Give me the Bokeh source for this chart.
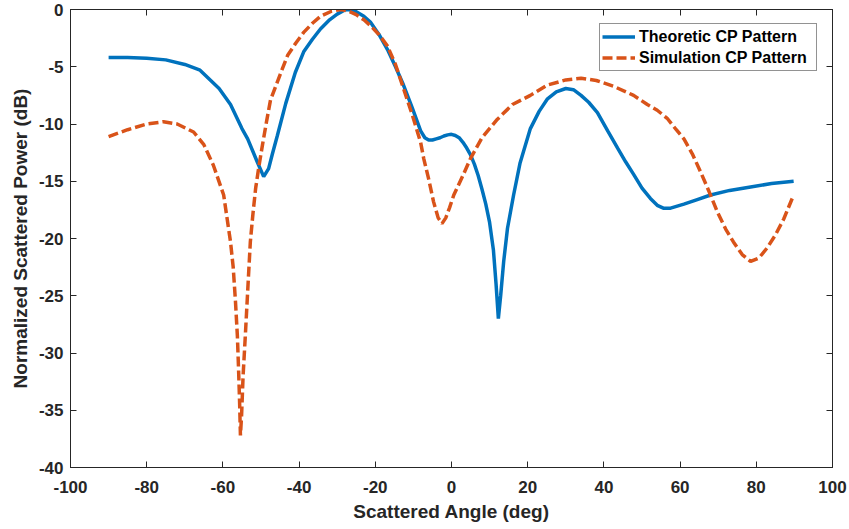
from bokeh.plotting import figure
from bokeh.models import LinearAxis, FixedTicker, Legend, LegendItem, Range1d
from bokeh.embed import file_html
from bokeh.resources import INLINE

# Theoretic CP pattern
theo_x = [-90, -85, -80, -75, -70, -66, -61, -58, -55, -53.5, -51, -49.3, -48, -47, -45.7,
          -43.5, -41, -38.8, -36.5, -34.4, -32, -30, -28, -27, -25, -23, -21.3, -19, -16.8,
          -14.7, -12.6, -10.3, -8.1, -7, -6, -5, -4, -3, -2, -1, 0, 1, 2, 3, 4, 5, 6, 7, 8, 9,
          10, 11, 11.7, 12.3, 12.9, 13.7, 14.7, 16.3, 18, 20.7, 23, 25.2, 27.5, 30, 32, 34, 36,
          38.3, 41, 43.6, 45.7, 47.8, 50, 52.2, 54, 55.6, 57.5, 61, 64.5, 68, 73, 78.5, 84, 89.8]
theo_y = [-4.2, -4.2, -4.25, -4.4, -4.8, -5.3, -6.9, -8.3, -10.4, -11.3, -13.3, -14.6, -13.9, -12.6, -11.0,
          -8.2, -5.5, -3.7, -2.6, -1.7, -0.9, -0.4, -0.05, 0.0, -0.2, -0.6, -1.1, -2.2, -3.5,
          -5.0, -6.6, -8.6, -10.6, -11.2, -11.4, -11.4, -11.3, -11.2, -11.05, -10.95, -10.9, -11.0, -11.2, -11.6, -12.1, -12.7, -13.5, -14.5, -15.7, -17.0,
          -18.6, -21.0, -24.0, -27.0, -25.0, -22.0, -19.1, -16.2, -13.4, -10.4, -8.9, -7.8, -7.2, -6.9, -7.0, -7.5, -8.1,
          -9.0, -10.6, -12.1, -13.3, -14.4, -15.6, -16.5, -17.1, -17.35, -17.35, -17.0, -16.6, -16.2, -15.8, -15.5, -15.2, -15.0]

# Simulation CP pattern
sim_x = [-90, -85, -80, -75.6, -72, -67.7, -65, -62.5, -59.8, -58, -57.3, -56.7, -56.2, -55.9, -55.6, -55.4,
         -55.1, -54.7, -54.1, -53.4, -52.8, -52.1, -51.4, -50.5, -49.6, -48.5, -47.5, -45, -43, -40.8, -38.8,
         -36.5, -34.4, -31.5, -29, -27, -25, -23, -21.3, -19, -16.8, -14.7, -12.6, -10.3, -8.1, -7.3, -6,
         -4.7, -3.5, -2.5, -1.5, -0.5, 0.6, 3, 5, 8, 12, 16, 20.7, 25.2, 30, 34, 38, 42.5, 47.8, 51.4, 54,
         56.6, 59, 61, 63.2, 65.4, 67.6, 69.8, 72, 74, 76.3, 78.5, 80.7, 82.9, 85, 87.2, 89.8]
sim_y = [-11.1, -10.5, -10.0, -9.8, -10.0, -10.7, -11.8, -13.6, -16.2, -20.3, -22.5, -25.5, -28.5, -31.3, -34.5, -37.2,
         -35.5, -32.0, -28.4, -24.0, -20.3, -17.8, -15.6, -13.6, -11.8, -9.7, -7.9, -5.7, -4.0, -2.9, -2.0,
         -1.2, -0.6, -0.15, 0.0, -0.15, -0.45, -0.9, -1.4, -2.2, -3.2, -4.8, -6.9, -9.2, -11.6, -13.0, -14.8,
         -16.8, -18.2, -18.7, -18.2, -17.3, -16.2, -14.5, -13.0, -11.2, -9.6, -8.3, -7.5, -6.6, -6.15, -6.0, -6.2, -6.7, -7.5, -8.3, -8.8,
         -9.5, -10.5, -11.3, -12.6, -14.2, -15.9, -17.7, -19.2, -20.3, -21.4, -22.0, -21.7, -20.8, -19.7, -18.3, -16.2]

x_ticks = [-100, -80, -60, -40, -20, 0, 20, 40, 60, 80, 100]
y_ticks = [-40, -35, -30, -25, -20, -15, -10, -5, 0]
series_names = ["Theoretic CP Pattern", "Simulation CP Pattern"]

FONT = "Liberation Sans"
AX = "#262626"

p = figure(width=849, height=529, x_range=Range1d(-100, 100), y_range=Range1d(-40, 0),
           output_backend="svg", toolbar_location=None,
           min_border_left=70, min_border_right=17, min_border_top=9, min_border_bottom=62)
p.background_fill_color = "white"
p.border_fill_color = "white"
p.outline_line_color = AX
p.outline_line_width = 1
p.xgrid.visible = False
p.ygrid.visible = False

for ax, ticks in ((p.xaxis[0], x_ticks), (p.yaxis[0], y_ticks)):
    ax.ticker = FixedTicker(ticks=ticks)
    ax.major_label_overrides = {t: str(t) for t in ticks}
    ax.major_tick_in = 6
    ax.major_tick_out = 0
    ax.minor_tick_line_color = None
    ax.axis_line_color = AX
    ax.major_tick_line_color = AX
    ax.major_label_text_font = FONT
    ax.major_label_text_font_style = "bold"
    ax.major_label_text_font_size = "17px"
    ax.major_label_text_color = AX
    ax.axis_label_text_font = FONT
    ax.axis_label_text_font_style = "bold"
    ax.axis_label_text_font_size = "19px"
    ax.axis_label_text_color = AX

p.xaxis.major_label_standoff = 13
p.xaxis.axis_label_standoff = 5
p.yaxis.major_label_standoff = 7
p.yaxis.axis_label_standoff = 5

p.xaxis.axis_label = "Scattered Angle (deg)"
p.yaxis.axis_label = "Normalized Scattered Power (dB)"

for loc, ticks in (("right", y_ticks), ("above", x_ticks)):
    a = LinearAxis(ticker=FixedTicker(ticks=ticks), major_tick_in=6, major_tick_out=0,
                   minor_tick_line_color=None, major_label_text_font_size="1px",
                   major_label_text_color=None, major_label_standoff=0,
                   axis_line_color=AX, major_tick_line_color=AX)
    p.add_layout(a, loc)

r1 = p.line(theo_x, theo_y, line_color="#0072BD", line_width=3.5)
r2 = p.line(sim_x, sim_y, line_color="#D95319", line_width=3.5, line_dash="10 4")

legend = Legend(items=[LegendItem(label=series_names[0], renderers=[r1]),
                       LegendItem(label=series_names[1], renderers=[r2])],
                location=(529, 396))
legend.label_text_font = FONT
legend.label_text_font_style = "bold"
legend.label_text_font_size = "16px"
legend.label_text_color = "black"
legend.border_line_color = AX
legend.border_line_width = 1
legend.glyph_width = 33
legend.glyph_height = 21
legend.label_height = 21
legend.label_width = 175
legend.label_standoff = 4
legend.padding = 2
legend.spacing = 0
legend.margin = 0
p.add_layout(legend)

open("out.html", "w").write(file_html(p, INLINE))
